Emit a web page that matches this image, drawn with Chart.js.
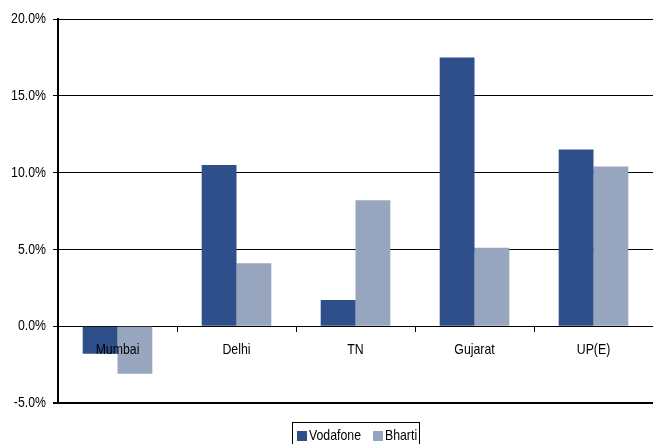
<!DOCTYPE html>
<html>
<head>
<meta charset="utf-8">
<script src="https://cdn.jsdelivr.net/npm/chart.js@4/dist/chart.umd.min.js"></script>
<style>
  html, body { margin: 0; padding: 0; background: #fff; }
  #wrap { width: 653px; height: 444px; }
</style>
</head>
<body>
<div id="wrap"><canvas id="chart" width="653" height="444"></canvas></div>
<script>
// circles data
const circles = ['Mumbai', 'Delhi', 'TN', 'Gujarat', 'UP(E)']
const vodafone = [-1.8, 10.5, 1.7, 17.5, 11.5]
const bharti = [-3.1, 4.1, 8.2, 5.1, 10.4]
const yTicks = [-5, 0, 5, 10, 15, 20]

const FONT = '"Liberation Sans", Arial, sans-serif'
const NARROW = 0.82   // the source uses a narrow face, squeeze arial to fake it

function narrowText(ctx, text, x, y, align) {
    ctx.save()
    ctx.font = '15px ' + FONT
    ctx.textAlign = align
    ctx.textBaseline = 'middle'
    ctx.fillStyle = '#000'
    ctx.translate(x, y)
    ctx.scale(NARROW, 1)
    ctx.fillText(text, 0, 0)
    ctx.restore()
}

function narrowWidth(ctx, text) {
    ctx.save()
    ctx.font = '15px ' + FONT
    const w = ctx.measureText(text).width * NARROW
    ctx.restore()
    return w
}

// excel style legend: boxed, under the plot, partly cut by the bottom edge
const boxedLegend = {
    id: 'boxedLegend',
    afterDraw(chart) {
        const ctx = chart.ctx
        const area = chart.chartArea
        const sets = chart.data.datasets
        const widths = sets.map(ds => narrowWidth(ctx, ds.label))
        const total = 5 + widths.reduce((s, w) => s + w + 12, 0) + 12 * (sets.length - 1) + 2
        const left = Math.round((area.left + area.right) / 2 - total / 2)
        const top = 422
        ctx.save()
        ctx.strokeStyle = '#000'
        ctx.lineWidth = 1
        ctx.strokeRect(left + 0.5, top + 0.5, Math.round(total), 40)
        ctx.restore()
        let x = left + 5
        const cy = 436
        sets.forEach((ds, i) => {
            ctx.fillStyle = ds.backgroundColor
            ctx.fillRect(x, cy - 5, 10, 10)
            narrowText(ctx, ds.label, x + 12, cy, 'left')
            x += 12 + widths[i] + 12
        })
    }
}

// axis texts: y ticks left of the axis, category names under the zero line over the bars
const axisText = {
    id: 'axisText',
    afterDatasetsDraw(chart) {
        const x = chart.scales.x
        const y = chart.scales.y
        const ctx = chart.ctx
        yTicks.forEach(v => {
            narrowText(ctx, v.toFixed(1) + '%', 46, y.getPixelForValue(v), 'right')
        })
        circles.forEach((c, i) => {
            narrowText(ctx, c, x.getPixelForValue(i), y.getPixelForValue(0) + 24, 'center')
        })
    }
}

new Chart(document.getElementById('chart'), {
    type: 'bar',
    data: {
        labels: circles,
        datasets: [
            { label: 'Vodafone', data: vodafone, backgroundColor: 'rgb(47, 79, 138)' },
            { label: 'Bharti', data: bharti, backgroundColor: 'rgb(151, 166, 190)' }
        ]
    },
    options: {
        responsive: false,
        animation: false,
        categoryPercentage: 0.585,
        barPercentage: 1,
        layout: { padding: { top: 19, right: 0, bottom: 41, left: 0 } },
        plugins: {
            tooltip: { enabled: false },
            legend: { display: false }
        },
        scales: {
            x: {
                position: { y: 0 },
                grid: {
                    offset: true,
                    drawOnChartArea: false,
                    drawTicks: true,
                    tickLength: 5,
                    color: '#000'
                },
                border: { display: true, color: '#000', width: 1 },
                ticks: { display: false }
            },
            y: {
                min: -5,
                max: 20,
                afterBuildTicks: (scale) => { scale.ticks = yTicks.map(v => ({ value: v })) },
                afterFit: (scale) => { scale.width = 58 },
                grid: {
                    color: '#000',
                    lineWidth: (c) => (c.tick && c.tick.value === -5 ? 2 : 1),
                    drawTicks: true,
                    tickLength: 5
                },
                border: { display: true, color: '#000', width: 2 },
                ticks: { display: false }
            }
        }
    },
    plugins: [boxedLegend, axisText]
})
</script>
</body>
</html>
